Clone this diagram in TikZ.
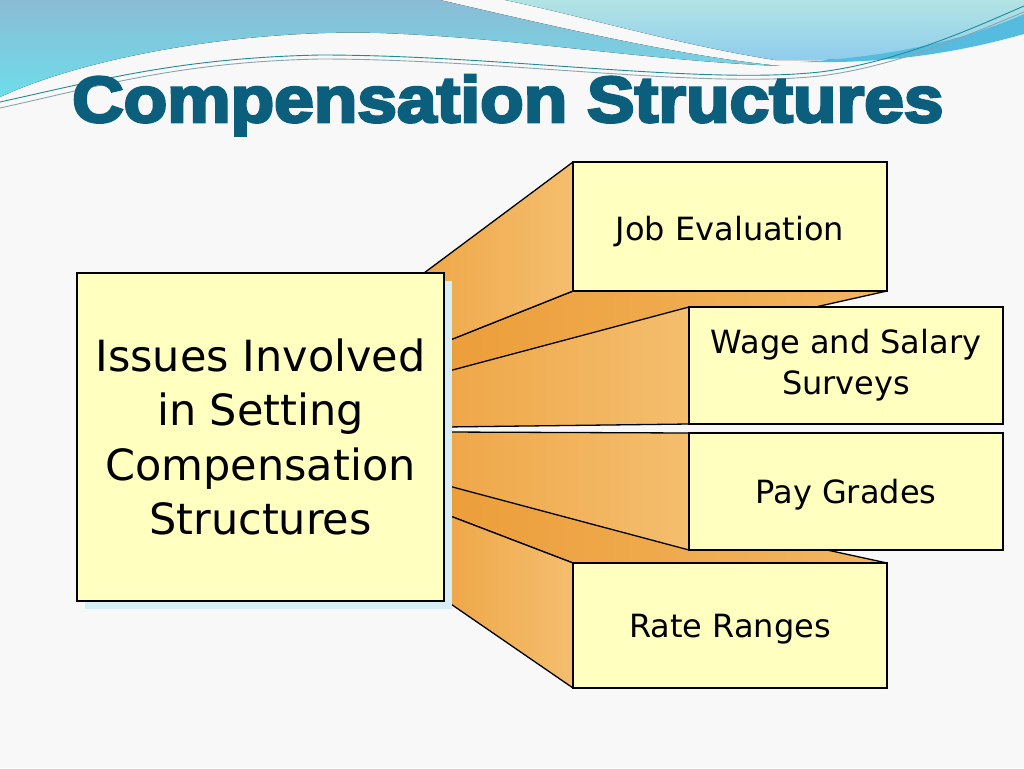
\documentclass[tikz,border=0pt]{standalone}
\usepackage{fontspec}
\setmainfont{DejaVu Sans}
\newfontfamily\titlefont{Liberation Sans}[BoldFeatures={FakeBold=4}]
\definecolor{bgcol}{HTML}{F8F8F8}
\definecolor{boxyellow}{HTML}{FFFFC0}
\definecolor{olight}{HTML}{F4BE6E}
\definecolor{odark}{HTML}{EFA748}
\definecolor{olight2}{HTML}{F2B660}
\definecolor{odark2}{HTML}{EC9E3A}
\definecolor{shadowblue}{HTML}{D6EDF4}
\definecolor{titleblue}{HTML}{0C5F7C}
\definecolor{waveAtop}{HTML}{8ABCD5}
\definecolor{waveAbot}{HTML}{6DDDEA}
\definecolor{waveBtop}{HTML}{B2E4E4}
\definecolor{waveBbot}{HTML}{8ECCEE}
\definecolor{streak}{HTML}{56BCDF}
\definecolor{lineteal}{HTML}{1E8C96}
\definecolor{linegray}{HTML}{8AA4AE}
\pgfdeclarelayer{background}
\pgfsetlayers{background,main}
\begin{document}
\begin{tikzpicture}[x=1pt,y=-1pt,
  box/.style={draw=black, line width=1.3pt, fill=boxyellow, inner sep=0pt, outer sep=0pt, align=center},
  smalltext/.style={font=\fontsize{32}{41}\selectfont},
  face/.style={draw=black, line width=1.3pt, line join=round, left color=odark, right color=olight},
  deepface/.style={draw=black, line width=1.3pt, line join=round, left color=odark2, right color=olight2}]
\useasboundingbox (0,0) rectangle (1024,768);

% boxes
\node[box, minimum width=367pt, minimum height=328pt,
      font=\fontsize{43}{54.5}\selectfont] (lb) at (260.5,437)
      {Issues Involved\\in Setting\\Compensation\\Structures};
\node[box, smalltext, minimum width=314pt, minimum height=129pt,
      text height=27pt, text depth=0pt] (je) at (730,226.5) {Job Evaluation};
\node[box, smalltext, minimum width=314pt, minimum height=117pt] (ws) at (846,365.5)
      {Wage and Salary\\Surveys};
\node[box, smalltext, minimum width=314pt, minimum height=117pt,
      text height=23pt, text depth=0pt] (pg) at (846,491.5) {Pay Grades};
\node[box, smalltext, minimum width=314pt, minimum height=125pt,
      text height=23pt, text depth=0pt] (rr) at (730,625.5) {Rate Ranges};

% title
\node[anchor=base west, inner sep=0pt, text=titleblue] (title) at (72,122)
      {\resizebox{871pt}{47pt}{\titlefont\bfseries Compensation Structures}};

\begin{pgfonlayer}{background}
  \fill[bgcol] (0,0) rectangle (1024,768);
  % decorative waves
  \fill[top color=waveAtop, bottom color=waveAbot]
    (0,0) -- (440,0) .. controls (560,28) and (680,56) .. (780,66)
    .. controls (640,60) and (520,38) .. (380,33)
    .. controls (250,29) and (90,55) .. (0,97) -- cycle;
  \fill[top color=waveBtop, bottom color=waveBbot]
    (505,0) -- (1024,0) -- (1024,32) .. controls (950,52) and (860,62) .. (775,60)
    .. controls (680,45) and (590,18) .. (505,0) -- cycle;
  \fill[streak] (800,62) .. controls (900,56) and (970,38) .. (1024,14)
    -- (1024,34) .. controls (960,52) and (890,64) .. (800,62) -- cycle;
  \draw[lineteal, line width=0.9pt] (0,102) .. controls (100,80) and (180,58) .. (320,55)
    .. controls (500,55) and (700,85) .. (820,72)
    .. controls (900,62) and (980,25) .. (1024,6);
  \draw[linegray, line width=0.9pt] (0,108) .. controls (100,86) and (180,62) .. (320,59)
    .. controls (500,59) and (700,89) .. (820,76)
    .. controls (900,66) and (980,30) .. (1024,12);

  % extruded faces
  \path[deepface] (je.south west) -- (je.south east) -- (445,390) -- (445,342) -- cycle;
  \path[face] (je.north west) -- (je.south west) -- (420,352) -- (420,276) -- cycle;
  \path[face] (ws.north west) -- (ws.south west) -- (445,427) -- (445,372) -- cycle;
  \path[deepface] (rr.north west) -- (rr.north east) -- (445,467) -- (445,514) -- cycle;
  \path[face] (pg.north west) -- (pg.south west) -- (445,485) -- (445,432) -- cycle;
  \path[face] (rr.north west) -- (rr.south west) -- (445,600) -- (445,514) -- cycle;
  % shadow of the left box
  \fill[shadowblue] (85,281) rectangle (452,609);
\end{pgfonlayer}
\end{tikzpicture}
\end{document}
